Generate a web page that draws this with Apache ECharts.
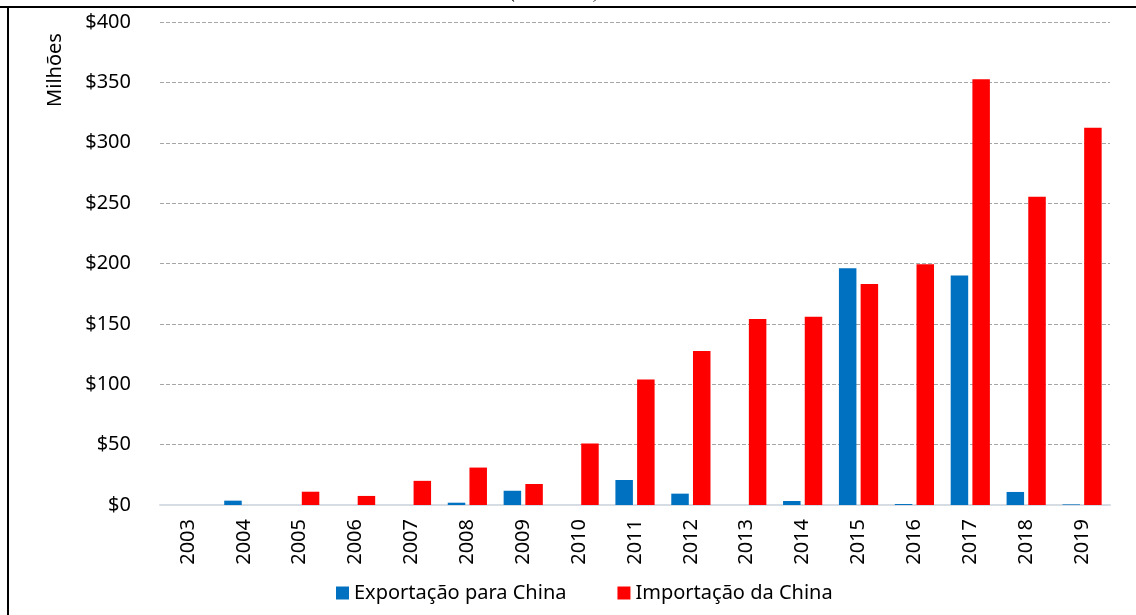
<!DOCTYPE html>
<html>
<head>
<meta charset="utf-8">
<script src="https://cdn.jsdelivr.net/npm/echarts@6/dist/echarts.min.js"></script>
<style>
  html, body { margin: 0; padding: 0; background: #fff; }
  #chart { width: 1136px; height: 615px; }
</style>
</head>
<body>
<div id="chart"></div>
<script>
// Trade with China, annual values in millions of US$
const years = ['2003','2004','2005','2006','2007','2008','2009','2010','2011','2012','2013','2014','2015','2016','2017','2018','2019'];
const exportsToChina = [0, 3.6, 0, 0, 0, 1.9, 11.8, 0, 20.7, 9.4, 0, 3.3, 196, 0.8, 190, 10.8, 0.5];
const importsFromChina = [0, 0, 11, 7.5, 20, 31, 17.4, 51, 104, 127.5, 154, 156, 183, 199.3, 352.5, 255.3, 312.5];
const seriesNames = ['Exportação para China', 'Importação da China'];
const yAxisTitle = 'Milhões';
const headerText = '(2003-2019)';

const FONT = '"Noto Sans", "Open Sans", sans-serif';

const chart = echarts.init(document.getElementById('chart'), null, { renderer: 'canvas' });

chart.setOption({
  backgroundColor: '#ffffff',
  animation: false,
  grid: { left: 160, right: 26, top: 22, bottom: 110, containLabel: false },
  legend: {
    data: seriesNames,
    left: 331,
    top: 578,
    itemWidth: 13,
    itemHeight: 13,
    itemGap: 51,
    icon: 'rect',
    textStyle: { fontFamily: FONT, fontSize: 20, color: '#000' }
  },
  xAxis: {
    type: 'category',
    data: years,
    axisLine: { show: true, lineStyle: { color: '#D5DCE4', width: 2 } },
    axisTick: { show: false },
    axisLabel: {
      rotate: 90,
      margin: 14,
      fontFamily: FONT,
      fontSize: 20,
      color: '#000'
    },
    splitLine: { show: false }
  },
  yAxis: {
    type: 'value',
    min: 0,
    max: 400,
    interval: 50,
    axisLine: { show: false },
    axisTick: { show: false },
    axisLabel: {
      margin: 29,
      fontFamily: FONT,
      fontSize: 20,
      color: '#000',
      formatter: v => '$' + v
    },
    splitLine: {
      show: true,
      lineStyle: { color: '#A6A6A6', type: [4, 2], width: 1 }
    }
  },
  series: [
    {
      name: seriesNames[0],
      type: 'bar',
      data: exportsToChina,
      barWidth: 17.5,
      barGap: '24%',
      itemStyle: { color: '#0070C0' }
    },
    {
      name: seriesNames[1],
      type: 'bar',
      data: importsFromChina,
      barWidth: 17.5,
      barGap: '24%',
      itemStyle: { color: '#FF0000' }
    }
  ],
  graphic: [
    // frame lines
    { type: 'line', shape: { x1: 0, y1: 7, x2: 1136, y2: 7 }, style: { stroke: '#000', lineWidth: 2 }, z: 10 },
    { type: 'line', shape: { x1: 8, y1: 7, x2: 8, y2: 615 }, style: { stroke: '#000', lineWidth: 2 }, z: 10 },
    // header line sitting above the frame
    {
      type: 'text', left: 510, top: -16,
      style: { text: headerText, font: 'italic 18px "Liberation Serif", serif', fill: '#000' }
    },
    // vertical axis title
    {
      type: 'text',
      x: 55, y: 70,
      rotation: Math.PI / 2,
      style: {
        text: yAxisTitle,
        font: '20px ' + FONT,
        fill: '#000',
        align: 'center',
        verticalAlign: 'middle'
      }
    }
  ]
});
</script>
</body>
</html>
